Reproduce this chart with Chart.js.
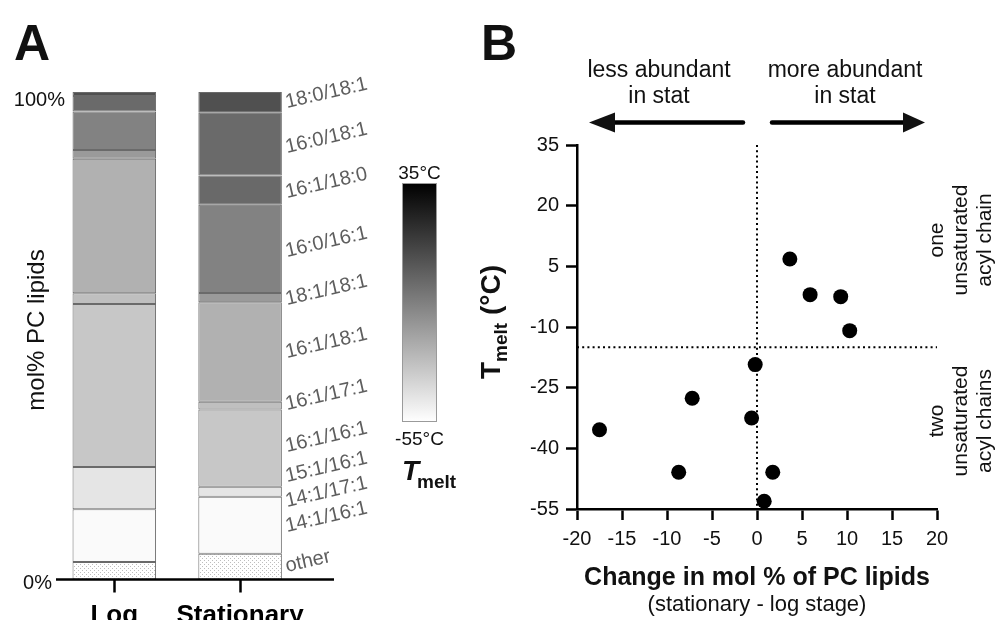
<!DOCTYPE html>
<html><head><meta charset="utf-8">
<script src="https://cdn.jsdelivr.net/npm/chart.js@4"></script>
<style>
html,body{margin:0;padding:0;background:#fff;overflow:hidden}
#wrap{position:relative;width:1002px;height:620px;background:#fff}
.box{position:absolute;top:0;height:620px}
</style></head><body>
<div id="wrap">
  <div class="box" style="left:0;width:460px"><canvas id="ca"></canvas></div>
  <div class="box" style="left:460px;width:542px"><canvas id="cb"></canvas></div>
</div>
<script>
// ---------------- DATA ----------------
const stages = ['Log', 'Stationary'];
const lipids = ['18:0/18:1','16:0/18:1','16:1/18:0','16:0/16:1','18:1/18:1','16:1/18:1',
                '16:1/17:1','16:1/16:1','15:1/16:1','14:1/17:1','14:1/16:1','other'];
const logMol  = [0.8, 3.2, 0.0, 7.9, 1.8, 27.6, 2.2, 33.4, 8.7, 0.0, 10.8, 3.6];
const statMol = [4.25, 12.9, 6.0, 18.1, 1.9, 20.4, 1.6, 15.8, 0.0, 2.05, 11.7, 5.3];
const tmelt   = [6.8, -2.5, -2.0, -10.9, -19.3, -27.6, -32.5, -35.4, -45.9, -45.9, -53.1, null];
const deltaMol = [3.65, 9.3, 5.9, 10.3, -0.2, -7.2, -0.6, -17.5, -8.7, 1.75, 0.8, null];
const tmeltRange = [-55, 35];
const tmeltDivider = -15;
const yTickLabelsA = ['0%', '100%'];
const xRangeB = [-20, 20], xStepB = 5;
const yRangeB = [-55, 35], yStepB = 15;

// ---------------- STYLE ----------------
const FONT = '"Liberation Sans", Arial, Helvetica, sans-serif';
Chart.defaults.font.family = FONT;
Chart.defaults.color = '#111';

function stipple() {
  const c = document.createElement('canvas'); c.width = 4; c.height = 4;
  const x = c.getContext('2d');
  x.fillStyle = '#fff'; x.fillRect(0, 0, 4, 4);
  x.fillStyle = '#bdbdbd'; x.fillRect(0, 0, 1, 1); x.fillRect(2, 2, 1, 1);
  return x.createPattern(c, 'repeat');
}
function tmColor(t) {
  if (t === null) return stipple();
  const f = (t - tmeltRange[0]) / (tmeltRange[1] - tmeltRange[0]);
  const g = Math.round(255 * (1 - f));
  return `rgb(${g},${g},${g})`;
}

// ---------------- PANEL A ----------------
const labelLayoutA = { x: 287, baselines: [108,153,198,257,305,358,410,452,482,507,532,572], angle: -13 };

const panelAPlugin = {
  id: 'panelA',
  afterDraw(chart) {
    const ctx = chart.ctx, ca = chart.chartArea, ys = chart.scales.y;
    ctx.save();
    ctx.fillStyle = '#111'; ctx.font = `bold 50px ${FONT}`;
    ctx.textAlign = 'left'; ctx.textBaseline = 'alphabetic';
    ctx.fillText('A', 14, 60);
    ctx.strokeStyle = '#000'; ctx.lineWidth = 2.5;
    ctx.beginPath(); ctx.moveTo(56, ca.bottom); ctx.lineTo(334, ca.bottom); ctx.stroke();
    ctx.font = `20px ${FONT}`; ctx.textAlign = 'right'; ctx.textBaseline = 'middle';
    ctx.fillText(yTickLabelsA[1], 65, ys.getPixelForValue(100) + 8);
    ctx.fillText(yTickLabelsA[0], 52, ys.getPixelForValue(0) + 4);
    ctx.save();
    ctx.translate(37, 330); ctx.rotate(-Math.PI / 2);
    ctx.font = `24px ${FONT}`; ctx.textAlign = 'center'; ctx.textBaseline = 'middle';
    ctx.fillText('mol% PC lipids', 0, 0);
    ctx.restore();
    ctx.fillStyle = '#5e5e5e'; ctx.font = `20px ${FONT}`;
    ctx.textAlign = 'left'; ctx.textBaseline = 'alphabetic';
    lipids.forEach((l, i) => {
      ctx.save();
      ctx.translate(labelLayoutA.x, labelLayoutA.baselines[i]);
      ctx.rotate(labelLayoutA.angle * Math.PI / 180);
      ctx.fillText(l, 0, 0);
      ctx.restore();
    });
    const bx = 402, by = 183, bw = 35, bh = 239;
    const g = ctx.createLinearGradient(0, by, 0, by + bh);
    g.addColorStop(0, tmColor(tmeltRange[1])); g.addColorStop(1, tmColor(tmeltRange[0]));
    ctx.fillStyle = g; ctx.fillRect(bx, by, bw, bh);
    ctx.strokeStyle = '#9a9a9a'; ctx.lineWidth = 1;
    ctx.strokeRect(bx + 0.5, by + 0.5, bw - 1, bh - 1);
    ctx.fillStyle = '#111'; ctx.font = `19px ${FONT}`; ctx.textAlign = 'center';
    ctx.textBaseline = 'alphabetic';
    ctx.fillText(tmeltRange[1] + '°C', bx + bw / 2, 179);
    ctx.fillText(tmeltRange[0] + '°C', bx + bw / 2, 445);
    ctx.textAlign = 'left';
    ctx.font = `italic bold 28px ${FONT}`;
    ctx.fillText('T', 402, 480);
    const tw = ctx.measureText('T').width;
    ctx.font = `bold 19px ${FONT}`;
    ctx.fillText('melt', 402 + tw - 2, 488);
    ctx.restore();
  }
};

const order = lipids.map((_, i) => i).reverse();
new Chart(document.getElementById('ca'), {
  type: 'bar',
  data: {
    labels: stages,
    datasets: order.map(i => ({
      label: lipids[i],
      data: [logMol[i], statMol[i]],
      backgroundColor: tmColor(tmelt[i]),
      borderColor: '#6a6a6a',
      borderWidth: 1,
      borderSkipped: false,
      barPercentage: 0.664,
      categoryPercentage: 1
    }))
  },
  options: {
    responsive: true, maintainAspectRatio: false, animation: false,
    layout: { padding: { left: 0, top: 92, right: 157, bottom: 0 } },
    plugins: { legend: { display: false }, tooltip: { enabled: false } },
    scales: {
      x: {
        stacked: true, offset: true,
        grid: { display: true, drawOnChartArea: false, offset: false, tickLength: 13, tickWidth: 2.5, tickColor: '#000' },
        border: { display: false },
        ticks: { font: { size: 26, weight: 'bold' }, color: '#000', padding: 8, maxRotation: 0, minRotation: 0, autoSkip: false },
        afterFit(s) { s.height = 40.5; }
      },
      y: {
        stacked: true, min: 0, max: 100,
        grid: { display: false }, border: { display: false },
        ticks: { display: false },
        afterFit(s) { s.width = 51.4; }
      }
    }
  },
  plugins: [panelAPlugin]
});

// ---------------- PANEL B ----------------
const panelBPlugin = {
  id: 'panelB',
  beforeDatasetsDraw(chart) {
    const ctx = chart.ctx, ca = chart.chartArea, xs = chart.scales.x, ys = chart.scales.y;
    ctx.save();
    ctx.strokeStyle = '#000'; ctx.lineWidth = 2; ctx.setLineDash([2, 3.2]);
    const x0 = xs.getPixelForValue(0);
    ctx.beginPath(); ctx.moveTo(x0, ca.top); ctx.lineTo(x0, ca.bottom); ctx.stroke();
    const yd = ys.getPixelForValue(tmeltDivider);
    ctx.beginPath(); ctx.moveTo(ca.left, yd); ctx.lineTo(ca.right, yd); ctx.stroke();
    ctx.restore();
  },
  afterDraw(chart) {
    const ctx = chart.ctx, xs = chart.scales.x;
    ctx.save();
    ctx.fillStyle = '#111'; ctx.strokeStyle = '#000';
    ctx.font = `bold 50px ${FONT}`; ctx.textAlign = 'left'; ctx.textBaseline = 'alphabetic';
    ctx.fillText('B', 21, 60);
    ctx.font = `23px ${FONT}`; ctx.textAlign = 'center';
    ctx.fillText('less abundant', 199, 77); ctx.fillText('in stat', 199, 103);
    ctx.fillText('more abundant', 385, 77); ctx.fillText('in stat', 385, 103);
    const ay = 122.5;
    ctx.lineWidth = 4.5; ctx.lineCap = 'round';
    ctx.beginPath(); ctx.moveTo(283, ay); ctx.lineTo(152, ay); ctx.stroke();
    ctx.beginPath(); ctx.moveTo(312, ay); ctx.lineTo(446, ay); ctx.stroke();
    ctx.beginPath(); ctx.moveTo(129, ay); ctx.lineTo(155, ay - 10); ctx.lineTo(155, ay + 10); ctx.closePath(); ctx.fill();
    ctx.beginPath(); ctx.moveTo(465, ay); ctx.lineTo(443, ay - 10); ctx.lineTo(443, ay + 10); ctx.closePath(); ctx.fill();
    ctx.save();
    ctx.translate(40, 322); ctx.rotate(-Math.PI / 2);
    ctx.textAlign = 'left'; ctx.textBaseline = 'alphabetic';
    const fBig = `bold 28px ${FONT}`, fSub = `bold 19px ${FONT}`;
    ctx.font = fBig; const wT = ctx.measureText('T').width, wC = ctx.measureText(' (°C)').width;
    ctx.font = fSub; const wS = ctx.measureText('melt').width;
    let px = -(wT + wS + wC) / 2;
    ctx.font = fBig; ctx.fillText('T', px, 0); px += wT;
    ctx.font = fSub; ctx.fillText('melt', px, 7); px += wS;
    ctx.font = fBig; ctx.fillText(' (°C)', px, 0);
    ctx.restore();
    const xc = xs.getPixelForValue(0);
    ctx.textAlign = 'center';
    ctx.font = `bold 25px ${FONT}`; ctx.fillText('Change in mol % of PC lipids', xc, 585);
    ctx.font = `22px ${FONT}`; ctx.fillText('(stationary - log stage)', xc, 611);
    ctx.font = `21px ${FONT}`;
    const groups = [
      { cy: 240, lines: ['one', 'unsaturated', 'acyl chain'] },
      { cy: 421, lines: ['two', 'unsaturated', 'acyl chains'] }
    ];
    const baseX = [483, 507, 531];
    groups.forEach(gp => {
      gp.lines.forEach((t, k) => {
        ctx.save();
        ctx.translate(baseX[k], gp.cy); ctx.rotate(-Math.PI / 2);
        ctx.textAlign = 'center'; ctx.textBaseline = 'alphabetic';
        ctx.fillText(t, 0, 0);
        ctx.restore();
      });
    });
    ctx.restore();
  }
};

const points = lipids.map((l, i) => ({ x: deltaMol[i], y: tmelt[i] })).filter(p => p.x !== null && p.y !== null);

new Chart(document.getElementById('cb'), {
  type: 'scatter',
  data: {
    datasets: [{
      data: points,
      pointRadius: 7.5, pointBackgroundColor: '#000', pointBorderWidth: 0, pointBorderColor: '#000'
    }]
  },
  options: {
    responsive: true, maintainAspectRatio: false, animation: false,
    layout: { padding: { left: 0, top: 145, right: 65, bottom: 0 } },
    plugins: { legend: { display: false }, tooltip: { enabled: false } },
    scales: {
      x: {
        type: 'linear', min: xRangeB[0], max: xRangeB[1],
        ticks: { stepSize: xStepB, font: { size: 20 }, color: '#111', padding: 7, maxRotation: 0 },
        grid: { display: true, drawOnChartArea: false, tickLength: 11, tickWidth: 2.5, tickColor: '#000' },
        border: { display: true, color: '#000', width: 2.5 },
        afterFit(s) { s.height = 111; }
      },
      y: {
        type: 'linear', min: yRangeB[0], max: yRangeB[1],
        ticks: { stepSize: yStepB, font: { size: 20 }, color: '#111', padding: 7 },
        grid: { display: true, drawOnChartArea: false, tickLength: 11, tickWidth: 2.5, tickColor: '#000' },
        border: { display: true, color: '#000', width: 2.5 },
        afterFit(s) { s.width = 117; }
      }
    }
  },
  plugins: [panelBPlugin]
});
</script>
</body></html>
